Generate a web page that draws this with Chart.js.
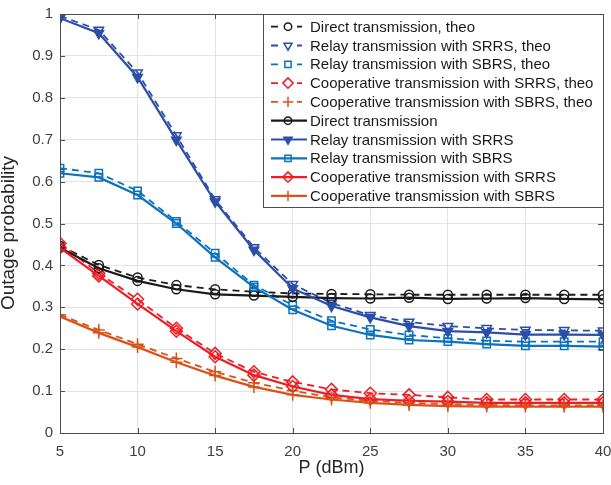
<!DOCTYPE html>
<html>
<head>
<meta charset="utf-8">
<script src="https://cdn.jsdelivr.net/npm/chart.js@4/dist/chart.umd.min.js"></script>
<style>
  body { margin: 0; background: #fff; }
  #wrap { width: 611px; height: 485px; }
</style>
</head>
<body>
<div id="wrap"><canvas id="myChart" width="611" height="485"></canvas></div>
<script>
// P (dBm) sample points
const pValues = [5, 7.5, 10, 12.5, 15, 17.5, 20, 22.5, 25, 27.5, 30, 32.5, 35, 37.5, 40];

// theoretical curves
const directTheo   = [0.447, 0.401, 0.371, 0.353, 0.343, 0.337, 0.333, 0.332, 0.331, 0.330, 0.330, 0.330, 0.330, 0.330, 0.330];
const srrsTheo     = [0.995, 0.962, 0.860, 0.710, 0.557, 0.443, 0.355, 0.310, 0.281, 0.265, 0.255, 0.250, 0.246, 0.245, 0.244];
const sbrsTheo     = [0.632, 0.620, 0.578, 0.505, 0.429, 0.353, 0.305, 0.268, 0.247, 0.234, 0.226, 0.220, 0.218, 0.218, 0.218];
const coopSrrsTheo = [0.453, 0.381, 0.319, 0.250, 0.190, 0.146, 0.122, 0.104, 0.095, 0.091, 0.085, 0.080, 0.080, 0.080, 0.080];
const coopSbrsTheo = [0.282, 0.246, 0.212, 0.178, 0.146, 0.120, 0.101, 0.085, 0.077, 0.072, 0.069, 0.067, 0.066, 0.066, 0.066];

// simulated curves
const directSim    = [0.442, 0.393, 0.363, 0.343, 0.331, 0.328, 0.325, 0.322, 0.321, 0.323, 0.320, 0.321, 0.322, 0.320, 0.319];
const srrsSim      = [0.990, 0.954, 0.849, 0.699, 0.552, 0.437, 0.345, 0.303, 0.276, 0.255, 0.243, 0.240, 0.235, 0.235, 0.234];
const sbrsSim      = [0.620, 0.610, 0.568, 0.500, 0.419, 0.348, 0.294, 0.256, 0.234, 0.222, 0.218, 0.212, 0.208, 0.208, 0.206];
const coopSrrsSim  = [0.442, 0.375, 0.308, 0.243, 0.182, 0.138, 0.111, 0.091, 0.081, 0.077, 0.075, 0.072, 0.072, 0.072, 0.072];
const coopSbrsSim  = [0.278, 0.239, 0.205, 0.169, 0.137, 0.110, 0.091, 0.080, 0.072, 0.067, 0.064, 0.063, 0.063, 0.063, 0.063];

const xTicks = [5, 10, 15, 20, 25, 30, 35, 40];
const yTicks = [0, 0.1, 0.2, 0.3, 0.4, 0.5, 0.6, 0.7, 0.8, 0.9, 1];

const BLACK = '#1a1a1a';
const BLUE = '#2b4fa8';
const LBLUE = '#0b72bd';
const RED = '#ee1d24';
const ORANGE = '#d95319';
const AXIS = '#4d4d4d';
const FONT = '"Liberation Sans", Arial, sans-serif';

const markerSize = { circle: 4.5, triangle: 5.5, rect: 5.2, rectRot: 6, cross: 6 };

function series(label, values, color, style, dashed, filled) {
    return {
        label: label,
        data: pValues.map((p, i) => ({ x: p, y: values[i] })),
        borderColor: color,
        backgroundColor: filled ? color : 'rgba(0,0,0,0)',
        borderWidth: dashed ? 1.8 : 2.2,
        borderDash: dashed ? [7, 5] : [],
        pointStyle: style,
        pointRotation: style === 'triangle' ? 180 : 0,
        pointRadius: markerSize[style],
        pointBorderWidth: 1.5,
        pointBorderColor: color,
        pointBackgroundColor: filled ? color : 'rgba(0,0,0,0)',
        tension: 0
    };
}

const datasets = [
    series('Direct transmission, theo', directTheo, BLACK, 'circle', true),
    series('Relay transmission with SRRS, theo', srrsTheo, BLUE, 'triangle', true),
    series('Relay transmission with SBRS, theo', sbrsTheo, LBLUE, 'rect', true),
    series('Cooperative transmission with SRRS, theo', coopSrrsTheo, RED, 'rectRot', true),
    series('Cooperative transmission with SBRS, theo', coopSbrsTheo, ORANGE, 'cross', true),
    series('Direct transmission', directSim, BLACK, 'circle', false),
    series('Relay transmission with SRRS', srrsSim, BLUE, 'triangle', false, true),
    series('Relay transmission with SBRS', sbrsSim, LBLUE, 'rect', false),
    series('Cooperative transmission with SRRS', coopSrrsSim, RED, 'rectRot', false),
    series('Cooperative transmission with SBRS', coopSbrsSim, ORANGE, 'cross', false)
];
// later series on top, like the original plot
datasets.forEach((d, i) => { d.order = datasets.length - i; });

// box round the axes with inward ticks, plus the y label
const boxTicks = {
    id: 'boxTicks',
    afterDatasetsDraw(chart) {
        const ctx = chart.ctx;
        const a = chart.chartArea;
        const xs = chart.scales.x, ys = chart.scales.y;
        ctx.save();
        ctx.strokeStyle = AXIS;
        ctx.lineWidth = 1;
        ctx.beginPath();
        xTicks.forEach(v => {
            const px = Math.round(xs.getPixelForValue(v)) + 0.5;
            ctx.moveTo(px, a.bottom); ctx.lineTo(px, a.bottom - 5);
            ctx.moveTo(px, a.top); ctx.lineTo(px, a.top + 5);
        });
        yTicks.forEach(v => {
            const py = Math.round(ys.getPixelForValue(v)) + 0.5;
            ctx.moveTo(a.left, py); ctx.lineTo(a.left + 5, py);
            ctx.moveTo(a.right, py); ctx.lineTo(a.right - 5, py);
        });
        ctx.stroke();
        ctx.strokeRect(Math.round(a.left) + 0.5, Math.round(a.top) + 0.5,
                       Math.round(a.right - a.left), Math.round(a.bottom - a.top));

        ctx.translate(9, 233);
        ctx.rotate(-Math.PI / 2);
        ctx.font = '19px ' + FONT;
        ctx.fillStyle = '#262626';
        ctx.textAlign = 'center';
        ctx.textBaseline = 'middle';
        ctx.fillText('Outage probability', 0, 0);
        ctx.restore();
    }
};

// legend box inside the axes, top right
const insideLegend = {
    id: 'insideLegend',
    afterDraw(chart) {
        const ctx = chart.ctx;
        const a = chart.chartArea;
        const rowH = 18.8;
        const boxW = 340, boxH = 193;
        const bx = Math.round(a.right) - boxW, by = Math.round(a.top);
        ctx.save();
        ctx.fillStyle = '#fff';
        ctx.fillRect(bx, by, boxW, boxH);
        ctx.strokeStyle = AXIS;
        ctx.lineWidth = 1;
        ctx.strokeRect(bx + 0.5, by + 0.5, boxW, boxH);
        ctx.font = '15px ' + FONT;
        ctx.textBaseline = 'middle';
        chart.data.datasets.forEach((d, i) => {
            const cy = by + 12.7 + i * rowH;
            ctx.save();
            ctx.strokeStyle = d.borderColor;
            ctx.lineWidth = d.borderWidth;
            ctx.setLineDash(d.borderDash);
            ctx.beginPath();
            ctx.moveTo(bx + 8, cy);
            ctx.lineTo(bx + 44, cy);
            ctx.stroke();
            ctx.restore();
            ctx.save();
            ctx.lineWidth = 1.5;
            ctx.strokeStyle = d.pointBorderColor;
            if (d.borderDash.length) {
                // white behind the marker gives the "- o -" look
                ctx.fillStyle = '#fff';
                ctx.fillRect(bx + 16, cy - 5, 18, 10);
            }
            ctx.fillStyle = d.pointBackgroundColor;
            Chart.helpers.drawPoint(ctx, {
                pointStyle: d.pointStyle,
                rotation: d.pointRotation,
                radius: d.pointRadius - 0.8,
                borderWidth: 1.5
            }, bx + 25, cy);
            ctx.restore();
            ctx.fillStyle = '#1a1a1a';
            ctx.fillText(d.label, bx + 47, cy + 1);
        });
        ctx.restore();
    }
};

const ctx = document.getElementById('myChart').getContext('2d');
const chart = new Chart(ctx, {
    type: 'line',
    data: { datasets: datasets },
    options: {
        responsive: false,
        animation: false,
        layout: { padding: { top: 14, right: 0, left: 0, bottom: 0 } },
        plugins: {
            legend: { display: false },
            tooltip: { enabled: false }
        },
        scales: {
            x: {
                type: 'linear',
                min: 5,
                max: 40,
                afterFit: s => { s.height = 52; s.paddingLeft = 0; s.paddingRight = 8; },
                afterBuildTicks: s => { s.ticks = xTicks.map(v => ({ value: v })); },
                grid: { color: '#e3e3e3', drawTicks: false },
                border: { display: true, color: AXIS },
                ticks: {
                    padding: 10,
                    color: '#404040',
                    font: { family: FONT, size: 15 }
                },
                title: {
                    display: true,
                    text: 'P (dBm)',
                    color: '#262626',
                    padding: { top: 0, bottom: 6 },
                    font: { family: FONT, size: 18 }
                }
            },
            y: {
                min: 0,
                max: 1,
                afterFit: s => { s.width = 60; s.paddingTop = 0; s.paddingBottom = 0; },
                afterBuildTicks: s => { s.ticks = yTicks.map(v => ({ value: v })); },
                grid: { color: '#e3e3e3', drawTicks: false },
                border: { display: true, color: AXIS },
                ticks: {
                    padding: 7,
                    color: '#404040',
                    callback: v => String(+v.toFixed(1)),
                    font: { family: FONT, size: 15 }
                }
            }
        }
    },
    plugins: [boxTicks, insideLegend]
});
</script>
</body>
</html>
